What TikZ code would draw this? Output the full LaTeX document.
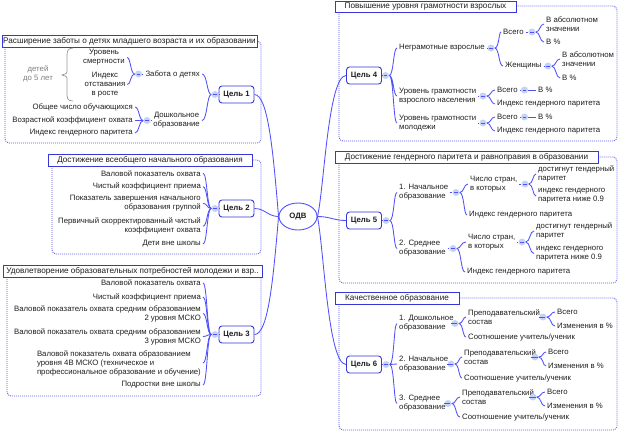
\documentclass[tikz,border=0pt]{standalone}
\usepackage{fontspec}
\setmainfont{Liberation Sans}
\usetikzlibrary{calc,shapes.geometric}
\definecolor{cblue}{RGB}{80,80,250}
\definecolor{tblue}{RGB}{55,55,215}
\definecolor{gblue}{RGB}{90,90,240}
\definecolor{hubc}{RGB}{195,210,245}
\definecolor{txtc}{RGB}{30,30,30}
\definecolor{grayt}{RGB}{125,125,125}
\begin{document}
\begin{tikzpicture}[x=1bp,y=-1bp,
  txt/.style={font=\fontsize{7.8}{9}\selectfont, text=txtc, inner xsep=2bp, inner ysep=0.5bp},
  ttl/.style={draw=tblue, fill=white, line width=0.8bp, font=\fontsize{8.2}{9}\selectfont, text=txtc, inner sep=0pt, minimum height=11.5bp},
  goal/.style={draw=tblue, fill=white, rounded corners=3bp, line width=0.9bp, font=\bfseries\fontsize{7.8}{9}\selectfont, text=txtc, minimum width=35bp, minimum height=17bp, inner sep=0pt},
  hub/.style={circle, fill=hubc, minimum size=7bp, inner sep=0pt, path picture={\draw[cblue,line width=0.5bp] ([xshift=-1.8bp]path picture bounding box.center) -- ([xshift=1.8bp]path picture bounding box.center);}},
  con/.style={draw=cblue, line width=0.85bp},
  grp/.style={draw=gblue, line width=0.8bp, dash pattern=on 1bp off 1bp, rounded corners=4bp},
  bR/.style={to path={.. controls ($(\tikztostart)+(4.5,0)$) and ($(\tikztostart|-\tikztotarget)+(4,0)$) .. (\tikztotarget)}},
  bL/.style={to path={.. controls ($(\tikztostart)+(-4.5,0)$) and ($(\tikztostart|-\tikztotarget)+(-4,0)$) .. (\tikztotarget)}},
]
\useasboundingbox (0,0) rectangle (620,432);

% group containers
\draw[grp] (5,41) rectangle (261,143);
\draw[grp] (52,160) rectangle (261,254);
\draw[grp] (7,271) rectangle (261,396);
\draw[grp] (339,6) rectangle (617,141);
\draw[grp] (339,157) rectangle (617,283);
\draw[grp] (339,298) rectangle (617,430);

% centre
\node[ellipse, draw=cblue, line width=0.9bp, fill=white, minimum width=38bp, minimum height=27bp, inner sep=0pt, font=\bfseries\fontsize{7.8}{9}\selectfont, text=txtc] (odv) at (298,216.5) {ОДВ};

% ---------- Group 1
\node[ttl, minimum width=255bp] (t1) at (129.5,41.5) {Расширение заботы о детях младшего возраста и их образовании};
\node[goal] (c1) at (236.5,94.5) {Цель 1};
\node[hub] (h1) at (215,94.5) {};
\node[txt, anchor=east] (zab) at (202,74) {Забота о детях};
\node[hub] (hzab) at (138.5,74) {};
\node[txt, anchor=east, align=center] (dosh) at (202,120.5) {Дошкольное\\образование};
\node[hub] (hdosh) at (147,120.5) {};
\node[txt, align=center] (ur) at (104,57.5) {Уровень\\смертности};
\node[txt, align=center] (ind) at (105,84.5) {Индекс\\отставания\\в росте};
\node[txt, align=center, text=grayt] (kid) at (38,73.5) {детей\\до 5 лет};
\node[txt, anchor=east] (ob1) at (135,107) {Общее число обучающихся};
\node[txt, anchor=east] (ob2) at (135,120.5) {Возрастной коэффициент охвата};
\node[txt, anchor=east] (ob3) at (135,133) {Индекс гендерного паритета};
\draw[draw=grayt!80, line width=0.7bp] (73,48) .. controls (67,48) and (67,52) .. (67,58) -- (67,70) .. controls (67,73.5) .. (62,75) .. controls (67,76.5) .. (67,80) -- (67,92) .. controls (67,98) and (67,101) .. (73,101);
\draw[con] (c1.west) -- (h1.east);
\draw[con] (h1.west) to[bL] (zab.east) (h1.west) to[bL] (dosh.east);
\draw[con] (zab.west) -- (hzab.east);
\draw[con] (hzab.west) to[bL] (ur.east) (hzab.west) to[bL] (ind.east);
\draw[con] (dosh.west) -- (hdosh.east);
\draw[con] (hdosh.west) to[bL] (ob1.east) (hdosh.west) to[bL] (ob2.east) (hdosh.west) to[bL] (ob3.east);

% ---------- Group 2
\node[ttl, minimum width=204bp] (t2) at (150,160.5) {Достижение всеобщего начального образования};
\node[goal] (c2) at (236.5,208.5) {Цель 2};
\node[hub] (h2) at (215,208.5) {};
\node[txt, anchor=east] (a1) at (203,173.3) {Валовой показатель охвата};
\node[txt, anchor=east] (a2) at (203,186.7) {Чистый коэффициент приема};
\node[txt, anchor=east, align=right] (a3) at (203,203.3) {Показатель завершения начального\\образования группой};
\node[txt, anchor=east, align=right] (a4) at (203,226.2) {Первичный скорректированный чистый\\коэффициент охвата};
\node[txt, anchor=east] (a5) at (203,244) {Дети вне школы};
\draw[con] (c2.west) -- (h2.east);
\foreach \n in {a1,a2,a3,a4,a5} \draw[con] (h2.west) to[bL] (\n.east);

% ---------- Group 3
\node[ttl, minimum width=259bp] (t3) at (132.5,271.5) {Удовлетворение образовательных потребностей молодежи и взр..};
\node[goal] (c3) at (236.5,334.5) {Цель 3};
\node[hub] (h3) at (215,334.5) {};
\node[txt, anchor=east] (b1) at (203,283) {Валовой показатель охвата};
\node[txt, anchor=east] (b2) at (203,297) {Чистый коэффициент приема};
\node[txt, anchor=east, align=right] (b3) at (203,313.5) {Валовой показатель охвата средним образованием\\2 уровня МСКО};
\node[txt, anchor=east, align=right] (b4) at (203,336.5) {Валовой показатель охвата средним образованием\\3 уровня МСКО};
\node[txt, anchor=east, align=left] (b5) at (203,363) {Валовой показатель охвата образованием\\уровня 4B МСКО (техническое и\\профессиональное образование и обучение)};
\node[txt, anchor=east] (b6) at (203,385) {Подростки вне школы};
\draw[con] (c3.west) -- (h3.east);
\foreach \n in {b1,b2,b3,b4,b5,b6} \draw[con] (h3.west) to[bL] (\n.east);

% ---------- Group 4
\node[ttl, minimum width=181bp] (t4) at (425.5,7) {Повышение уровня грамотности взрослых};
\node[goal] (c4) at (364,75.5) {Цель 4};
\node[hub] (h4) at (385.5,75.5) {};
\node[txt, anchor=west] (n1) at (397,48) {Неграмотные взрослые};
\node[hub] (hn1) at (491,48) {};
\node[txt, anchor=west] (n1a) at (501,32) {Всего};
\node[hub] (hn1a) at (532,32) {};
\node[txt, anchor=west, align=left] (n1a1) at (544,24) {В абсолютном\\значении};
\node[txt, anchor=west] (n1a2) at (544,42) {В \%};
\node[txt, anchor=west] (n1b) at (503,66) {Женщины};
\node[hub] (hn1b) at (548,66) {};
\node[txt, anchor=west, align=left] (n1b1) at (560,59) {В абсолютном\\значении};
\node[txt, anchor=west] (n1b2) at (560,78) {В \%};
\node[txt, anchor=west, align=left] (n2) at (397,96) {Уровень грамотности\\взрослого населения};
\node[hub] (hn2) at (483,96) {};
\node[txt, anchor=west] (n2a) at (495,90) {Всего};
\node[hub] (hn2a) at (524.5,90) {};
\node[txt, anchor=west] (n2a1) at (536,90) {В \%};
\node[txt, anchor=west] (n2b) at (495,104) {Индекс гендерного паритета};
\node[txt, anchor=west, align=left] (n3) at (397,123) {Уровень грамотности\\молодежи};
\node[hub] (hn3) at (483,123) {};
\node[txt, anchor=west] (n3a) at (495,117) {Всего};
\node[hub] (hn3a) at (524.5,117) {};
\node[txt, anchor=west] (n3a1) at (536,117) {В \%};
\node[txt, anchor=west] (n3b) at (495,131) {Индекс гендерного паритета};
\draw[con] (c4.east) -- (h4.west);
\draw[con] (h4.east) to[bR] (n1.west) (h4.east) to[bR] (n2.west) (h4.east) to[bR] (n3.west);
\draw[con] (n1.east) -- (hn1.west);
\draw[con] (hn1.east) to[bR] (n1a.west) (hn1.east) to[bR] (n1b.west);
\draw[con] (n1a.east) -- (hn1a.west);
\draw[con] (hn1a.east) to[bR] (n1a1.west) (hn1a.east) to[bR] (n1a2.west);
\draw[con] (n1b.east) -- (hn1b.west);
\draw[con] (hn1b.east) to[bR] (n1b1.west) (hn1b.east) to[bR] (n1b2.west);
\draw[con] (n2.east) -- (hn2.west);
\draw[con] (hn2.east) to[bR] (n2a.west) (hn2.east) to[bR] (n2b.west);
\draw[con] (n2a.east) -- (hn2a.west) (hn2a.east) -- (n2a1.west);
\draw[con] (n3.east) -- (hn3.west);
\draw[con] (hn3.east) to[bR] (n3a.west) (hn3.east) to[bR] (n3b.west);
\draw[con] (n3a.east) -- (hn3a.west) (hn3a.east) -- (n3a1.west);

% ---------- Group 5
\node[ttl, minimum width=263bp] (t5) at (466.5,157.5) {Достижение гендерного паритета и равноправия в образовании};
\node[goal] (c5) at (364,220.5) {Цель 5};
\node[hub] (h5) at (386,220.5) {};
\node[txt, anchor=west, align=left] (m1) at (397,192.5) {1. Начальное\\образование};
\node[hub] (hm1) at (456,192.5) {};
\node[txt, anchor=west, align=left] (m1a) at (468,184) {Число стран,\\в которых};
\node[hub] (hm1a) at (525,184) {};
\node[txt, anchor=west, align=left] (m1a1) at (536,174) {достигнут гендерный\\паритет};
\node[txt, anchor=west, align=left] (m1a2) at (536,196) {индекс гендерного\\паритета ниже 0.9};
\node[txt, anchor=west] (m1b) at (467,215) {Индекс гендерного паритета};
\node[txt, anchor=west, align=left] (m2) at (397,248.5) {2. Среднее\\образование};
\node[hub] (hm2) at (453,248.5) {};
\node[txt, anchor=west, align=left] (m2a) at (466,242) {Число стран,\\в которых};
\node[hub] (hm2a) at (522,242) {};
\node[txt, anchor=west, align=left] (m2a1) at (534,231) {достигнут гендерный\\паритет};
\node[txt, anchor=west, align=left] (m2a2) at (534,253.5) {индекс гендерного\\паритета ниже 0.9};
\node[txt, anchor=west] (m2b) at (465,272) {Индекс гендерного паритета};
\draw[con] (c5.east) -- (h5.west);
\draw[con] (h5.east) to[bR] (m1.west) (h5.east) to[bR] (m2.west);
\draw[con] (m1.east) -- (hm1.west);
\draw[con] (hm1.east) to[bR] (m1a.west) (hm1.east) to[bR] (m1b.west);
\draw[con] (m1a.east) -- (hm1a.west);
\draw[con] (hm1a.east) to[bR] (m1a1.west) (hm1a.east) to[bR] (m1a2.west);
\draw[con] (m2.east) -- (hm2.west);
\draw[con] (hm2.east) to[bR] (m2a.west) (hm2.east) to[bR] (m2b.west);
\draw[con] (m2a.east) -- (hm2a.west);
\draw[con] (hm2a.east) to[bR] (m2a1.west) (hm2a.east) to[bR] (m2a2.west);

% ---------- Group 6
\node[ttl, minimum width=124bp] (t6) at (397,298.5) {Качественное образование};
\node[goal] (c6) at (364,364.5) {Цель 6};
\node[hub] (h6) at (386,364.5) {};
\node[txt, anchor=west, align=left] (k1) at (397,323.5) {1. Дошкольное\\образование};
\node[hub] (hk1) at (455,323.5) {};
\node[txt, anchor=west, align=left] (k1a) at (466,317) {Преподавательский\\состав};
\node[hub] (hk1a) at (543,317) {};
\node[txt, anchor=west] (k1a1) at (555,312) {Всего};
\node[txt, anchor=west] (k1a2) at (555,326) {Изменения в \%};
\node[txt, anchor=west] (k1b) at (466,337) {Соотношение учитель/ученик};
\node[txt, anchor=west, align=left] (k2) at (397,364) {2. Начальное\\образование};
\node[hub] (hk2) at (451,364) {};
\node[txt, anchor=west, align=left] (k2a) at (462,357) {Преподавательский\\состав};
\node[hub] (hk2a) at (535,357) {};
\node[txt, anchor=west] (k2a1) at (546,352) {Всего};
\node[txt, anchor=west] (k2a2) at (546,366) {Изменения в \%};
\node[txt, anchor=west] (k2b) at (462,378) {Соотношение учитель/ученик};
\node[txt, anchor=west, align=left] (k3) at (397,403.5) {3. Среднее\\образование};
\node[hub] (hk3) at (448,403.5) {};
\node[txt, anchor=west, align=left] (k3a) at (460,397) {Преподавательский\\состав};
\node[hub] (hk3a) at (533,397) {};
\node[txt, anchor=west] (k3a1) at (545,392) {Всего};
\node[txt, anchor=west] (k3a2) at (545,406) {Изменения в \%};
\node[txt, anchor=west] (k3b) at (460,417) {Соотношение учитель/ученик};
\draw[con] (c6.east) -- (h6.west);
\draw[con] (h6.east) to[bR] (k1.west) (h6.east) to[bR] (k2.west) (h6.east) to[bR] (k3.west);
\foreach \p/\h/\a/\b/\x/\y in {k1/hk1/k1a/k1b/hk1a/k1a, k2/hk2/k2a/k2b/hk2a/k2a, k3/hk3/k3a/k3b/hk3a/k3a}{
  \draw[con] (\p.east) -- (\h.west);
  \draw[con] (\h.east) to[bR] (\a.west) (\h.east) to[bR] (\b.west);
  \draw[con] (\a.east) -- (\x.west);
  \draw[con] (\x.east) to[bR] (\y1.west) (\x.east) to[bR] (\y2.west);
}

% ---------- centre links
\draw[con] (odv.west) .. controls (268,216.5) and (265,208.5) .. (c2.east);
\draw[con] (c1.east) .. controls (268,95) and (273,150) .. (odv.west);
\draw[con] (c3.east) .. controls (268,334.5) and (273,282) .. (odv.west);
\draw[con] (odv.east) .. controls (324,190) and (328,76) .. (c4.west);
\draw[con] (odv.east) .. controls (330,216.5) and (334,220.5) .. (c5.west);
\draw[con] (odv.east) .. controls (324,250) and (328,364) .. (c6.west);
\end{tikzpicture}
\end{document}
